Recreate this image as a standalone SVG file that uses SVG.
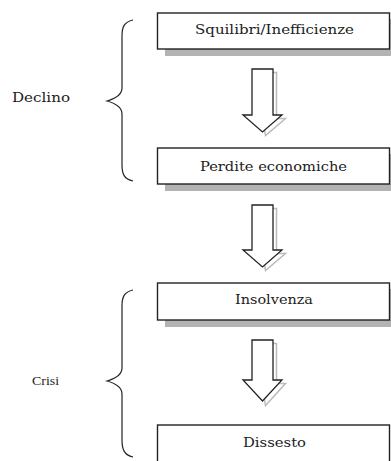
<svg xmlns="http://www.w3.org/2000/svg" width="391" height="461" viewBox="0 0 391 461">
<defs>
<style>
.box{fill:#fff;stroke:#222;stroke-width:1.4}
.shadow{fill:#b3b3b3}
.arrow{fill:#fff;stroke:#222;stroke-width:1.3;stroke-linejoin:miter}
.ashadow{fill:none;stroke:#bbb;stroke-width:1.5}
.brace{fill:none;stroke:#222;stroke-width:1.2}
text{font-family:"DejaVu Serif","Liberation Serif",serif;font-size:12.5px;fill:#222}
.c{text-anchor:middle}
.t{font-family:"Liberation Serif",serif;font-size:13.5px}
</style>
</defs>
<g id="connectors">
<polygon class="ashadow" points="254,71 275,71 275,117 284,117 264,134" transform="translate(1.5,1.5)"/>
<polygon class="arrow" points="252,69 273,69 273,115 282,115 262.5,132 243,115 252,115"/>
<polygon class="ashadow" points="254,207 275,207 275,252 284,252 264,269" transform="translate(1.5,1.5)"/>
<polygon class="arrow" points="252,205 273,205 273,250 282,250 262.5,267 243,250 252,250"/>
<polygon class="ashadow" points="254,342 275,342 275,382 284,382 264,404" transform="translate(1.5,1.5)"/>
<polygon class="arrow" points="252,340 273,340 273,380 282,380 262.5,401 243,380 252,380"/>
</g>
<g id="brace-declino">
<path class="brace" d="M133,20 C124,22 122,27 122,36 L122,88 C122,96 114,99 107,101 C114,103 122,106 122,114 L122,165 C122,174 124,179 133,181"/>
<text x="12" y="102" textLength="58" lengthAdjust="spacingAndGlyphs">Declino</text>
</g>
<g id="brace-crisi">
<path class="brace" d="M133,290 C124,292 122,297 122,306 L122,368 C122,376 114,379 107,381 C114,383 122,386 122,394 L122,440 C122,449 124,455 133,457"/>
<text class="t" x="32" y="385" textLength="27" lengthAdjust="spacingAndGlyphs">Crisi</text>
</g>
<g id="node-squilibri">
<rect class="shadow" x="165" y="19" width="230" height="37"/>
<rect class="box" x="157.5" y="13" width="232" height="36"/>
<text class="c" x="274.5" y="34" textLength="159" lengthAdjust="spacingAndGlyphs">Squilibri/Inefficienze</text>
</g>
<g id="node-perdite">
<rect class="shadow" x="165" y="154" width="230" height="37"/>
<rect class="box" x="157.5" y="148" width="232" height="36"/>
<text class="c" x="273.5" y="171" textLength="147" lengthAdjust="spacingAndGlyphs">Perdite economiche</text>
</g>
<g id="node-insolvenza">
<rect class="shadow" x="165" y="289" width="230" height="38"/>
<rect class="box" x="157.5" y="283" width="232" height="37"/>
<text class="c" x="274" y="304" textLength="78" lengthAdjust="spacingAndGlyphs">Insolvenza</text>
</g>
<g id="node-dissesto">
<rect class="box" x="157.5" y="425" width="232" height="50"/>
<text class="c" x="274.5" y="447" textLength="63" lengthAdjust="spacingAndGlyphs">Dissesto</text>
</g>
</svg>
